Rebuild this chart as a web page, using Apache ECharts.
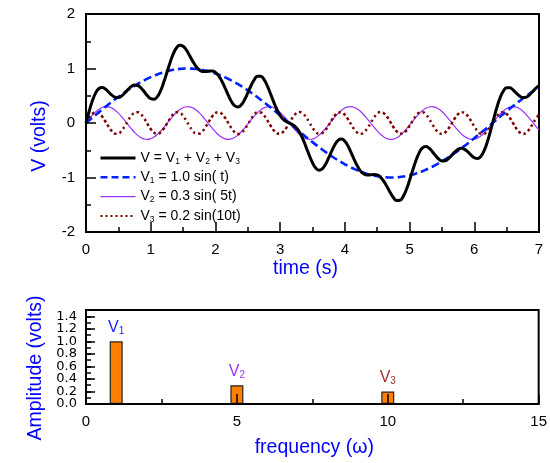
<!DOCTYPE html>
<html><head><meta charset="utf-8">
<script src="https://cdn.jsdelivr.net/npm/echarts@6/dist/echarts.min.js"></script>
<style>html,body{margin:0;padding:0;background:#fff}#c{width:550px;height:463px}</style>
</head><body><div id="c"></div>
<script>
// ---- data ----
const timeValues = [0,0.05,0.1,0.15,0.2,0.25,0.3,0.35,0.4,0.45,0.5,0.55,0.6,0.65,0.7,0.75,0.8,0.85,0.9,0.95,
1.0,1.05,1.1,1.15,1.2,1.25,1.3,1.35,1.4,1.45,1.5,1.55,1.6,1.65,1.7,1.75,1.8,1.85,1.9,1.95,
2.0,2.05,2.1,2.15,2.2,2.25,2.3,2.35,2.4,2.45,2.5,2.55,2.6,2.65,2.7,2.75,2.8,2.85,2.9,2.95,
3.0,3.05,3.1,3.15,3.2,3.25,3.3,3.35,3.4,3.45,3.5,3.55,3.6,3.65,3.7,3.75,3.8,3.85,3.9,3.95,
4.0,4.05,4.1,4.15,4.2,4.25,4.3,4.35,4.4,4.45,4.5,4.55,4.6,4.65,4.7,4.75,4.8,4.85,4.9,4.95,
5.0,5.05,5.1,5.15,5.2,5.25,5.3,5.35,5.4,5.45,5.5,5.55,5.6,5.65,5.7,5.75,5.8,5.85,5.9,5.95,
6.0,6.05,6.1,6.15,6.2,6.25,6.3,6.35,6.4,6.45,6.5,6.55,6.6,6.65,6.7,6.75,6.8,6.85,6.9,6.95,
7.0];
const v1Values = [0,.050,.100,.149,.199,.247,.296,.343,.389,.435,.479,.523,.565,.605,.644,.682,.717,.751,.783,.813,
.841,.867,.891,.913,.932,.949,.964,.976,.985,.993,.997,1.000,1.000,.997,.992,.984,.974,.961,.946,.929,
.909,.887,.863,.837,.808,.778,.746,.712,.676,.638,.599,.558,.516,.472,.427,.382,.335,.288,.239,.190,
.141,.092,.042,-.008,-.058,-.108,-.158,-.207,-.256,-.304,-.351,-.397,-.443,-.487,-.530,-.572,-.612,-.651,-.688,-.723,
-.757,-.789,-.818,-.846,-.872,-.895,-.916,-.935,-.952,-.966,-.978,-.987,-.994,-.998,-1.000,-.999,-.996,-.991,-.983,-.972,
-.959,-.944,-.926,-.906,-.884,-.859,-.832,-.803,-.773,-.740,-.706,-.669,-.631,-.592,-.551,-.508,-.465,-.420,-.374,-.327,
-.279,-.231,-.182,-.133,-.083,-.033,.017,.067,.117,.166,.215,.264,.312,.359,.405,.450,.494,.537,.578,.619,
.657];
const v2Values = [0,.074,.144,.205,.252,.285,.299,.295,.273,.233,.180,.115,.042,-.032,-.105,-.171,-.227,-.268,-.293,-.300,
-.288,-.258,-.212,-.152,-.084,-.010,.065,.135,.197,.247,.281,.298,.297,.277,.240,.187,.124,.052,-.023,-.096,
-.163,-.220,-.264,-.291,-.300,-.290,-.263,-.219,-.161,-.093,-.020,.055,.126,.189,.241,.278,.297,.298,.280,.245,
.195,.133,.062,-.013,-.086,-.155,-.214,-.259,-.288,-.300,-.293,-.267,-.225,-.169,-.103,-.030,.045,.117,.182,.235,
.274,.296,.299,.284,.251,.203,.142,.072,-.003,-.077,-.146,-.206,-.254,-.286,-.299,-.295,-.272,-.232,-.177,-.112,
-.040,.035,.108,.174,.229,.270,.294,.300,.287,.256,.210,.150,.081,.007,-.067,-.137,-.199,-.248,-.282,-.299,
-.296,-.276,-.238,-.185,-.121,-.050,.025,.098,.165,.222,.265,.292,.300,.290,.261,.217,.159,.091,.017,-.057,
-.128];
const v3Values = [0,.096,.168,.200,.182,.120,.028,-.070,-.151,-.196,-.192,-.141,-.056,.043,.131,.188,.198,.160,.082,-.015,
-.109,-.176,-.200,-.175,-.107,-.013,.084,.161,.198,.187,.130,.041,-.058,-.142,-.192,-.195,-.150,-.069,.030,.121,
.183,.199,.167,.094,-.002,-.097,-.169,-.200,-.181,-.118,-.026,.072,.153,.196,.191,.140,.054,-.045,-.133,-.188,
-.198,-.159,-.081,.017,.110,.177,.200,.174,.106,.012,-.086,-.162,-.198,-.186,-.129,-.040,.059,.144,.193,.195,
.149,.067,-.032,-.123,-.183,-.199,-.166,-.093,.004,.099,.170,.200,.180,.117,.025,-.073,-.154,-.196,-.191,-.139,
-.052,.046,.134,.189,.197,.158,.079,-.019,-.112,-.178,-.200,-.173,-.104,-.010,.087,.163,.199,.186,.127,.038,
-.061,-.145,-.193,-.194,-.148,-.065,.033,.124,.184,.199,.165,.091,-.005,-.101,-.171,-.200,-.180,-.115,-.023,.075,
.155];
const vValues = [0,.220,.412,.553,.633,.652,.623,.568,.511,.473,.467,.496,.551,.616,.670,.698,.688,.643,.572,.499,
.445,.434,.480,.585,.741,.926,1.112,1.272,1.381,1.427,1.409,1.340,1.239,1.131,1.039,.976,.947,.945,.954,.954,
.929,.866,.767,.640,.507,.390,.314,.293,.333,.426,.552,.684,.794,.857,.860,.799,.686,.541,.387,.248,
.139,.065,.023,-.004,-.035,-.086,-.171,-.292,-.438,-.592,-.729,-.826,-.866,-.842,-.761,-.641,-.508,-.390,-.313,-.294,
-.334,-.426,-.551,-.685,-.804,-.892,-.941,-.956,-.951,-.944,-.953,-.994,-1.067,-1.167,-1.275,-1.368,-1.422,-1.419,-1.351,-1.223,
-1.051,-.862,-.684,-.543,-.457,-.432,-.459,-.522,-.598,-.661,-.696,-.693,-.654,-.594,-.531,-.483,-.465,-.483,-.529,-.588,
-.637,-.652,-.613,-.512,-.352,-.148,.076,.289,.466,.587,.646,.646,.606,.548,.495,.467,.473,.512,.573,.636,
.683];
const seriesNames = ['V','V1','V2','V3'];
const legendTexts = ['V = V{s|1} + V{s|2} + V{s|3}','V{s|1} = 1.0 sin( t)','V{s|2} = 0.3 sin( 5t)','V{s|3} = 0.2 sin(10t)'];
const freqValues = [1,5,10];
const ampValues = [1.0,0.3,0.2];
const barLabelSubs = ['1','2','3'];
const ampTickLabels = ['0.0','0.2','0.4','0.6','0.8','1.0','1.2','1.4'];

// ---- styles ----
const FONT = '"Liberation Sans", Arial, Helvetica, sans-serif';
const BLUE = '#0000ff';
const barLabelColors = ['#1a1aff','#9933ff','#a03030'];

const chart = echarts.init(document.getElementById('c'));
const pairs = ys => timeValues.map((t,i)=>[t, ys[i]]);
const legendMap = {};
seriesNames.forEach((n,i)=>legendMap[n]=legendTexts[i]);

const axisCommon = {
  axisLine:{show:true,onZero:false,lineStyle:{color:'#000',width:2}},
  axisTick:{show:true,inside:true,length:10,lineStyle:{color:'#000',width:1.5}},
  minorTick:{show:true,splitNumber:2,length:5,lineStyle:{color:'#000',width:1.5}},
  splitLine:{show:false}, minorSplitLine:{show:false}
};
const ampLabel = v => {
  const s = v.toFixed(1);
  return ampTickLabels.indexOf(s) >= 0 && Math.abs(v*10 - Math.round(v*10)) < 1e-6 && Math.round(v*10) % 2 === 0 ? s : '';
};

chart.setOption({
  animation:false,
  backgroundColor:'#fff',
  grid:[
    {left:86,right:11,top:14,height:218,show:true,borderColor:'#000',borderWidth:2,backgroundColor:'transparent'},
    {left:86,right:11,top:310,height:94,show:true,borderColor:'#000',borderWidth:2,backgroundColor:'transparent'}
  ],
  xAxis:[
    Object.assign({gridIndex:0,type:'value',min:0,max:7,interval:1,z:10,
      axisLabel:{fontSize:15,color:'#000',fontFamily:FONT,margin:10},
      name:'time (s)',nameLocation:'middle',nameGap:27,
      nameTextStyle:{color:BLUE,fontSize:19.5,fontFamily:FONT,padding:[0,14,0,0]}},axisCommon),
    Object.assign({gridIndex:1,type:'value',min:0,max:15,interval:5,z:10,
      axisLabel:{fontSize:15,color:'#000',fontFamily:FONT,margin:10},
      name:'frequency (\u03c9)',nameLocation:'middle',nameGap:34,
      nameTextStyle:{color:BLUE,fontSize:19.5,fontFamily:FONT,padding:[0,0,0,4]}},axisCommon)
  ],
  yAxis:[
    Object.assign({gridIndex:0,type:'value',min:-2,max:2,interval:1,z:10,
      axisLabel:{fontSize:15,color:'#000',fontFamily:FONT,margin:11},
      name:'V (volts)',nameLocation:'middle',nameGap:36,
      nameTextStyle:{color:BLUE,fontSize:19.5,fontFamily:FONT,padding:[0,26,0,0]}},axisCommon),
    {gridIndex:1,type:'value',min:0,max:1.5,interval:0.1,z:10,position:'left',
      axisLine:{show:true,onZero:false,lineStyle:{color:'#000',width:2}},
      axisTick:{show:true,inside:true,length:5,lineStyle:{color:'#000',width:1.5}},
      minorTick:{show:false},splitLine:{show:false},
      axisLabel:{fontSize:13,color:'#000',fontFamily:'"DejaVu Sans", sans-serif',margin:9,lineHeight:8,
        showMinLabel:true,showMaxLabel:false,hideOverlap:false,formatter:ampLabel},
      name:'Amplitude (volts)',nameLocation:'middle',nameGap:39,
      nameTextStyle:{color:BLUE,fontSize:19.5,fontFamily:FONT,padding:[0,22,0,0]}},
    {gridIndex:1,type:'value',min:0,max:1.5,interval:0.2,z:11,position:'left',
      axisLine:{show:false},
      axisTick:{show:true,inside:true,length:9,lineStyle:{color:'#000',width:1.5}},
      minorTick:{show:false},splitLine:{show:false},axisLabel:{show:false}}
  ],
  legend:{
    orient:'vertical',left:94,top:145,itemWidth:35,itemHeight:14,itemGap:3.3,
    selectedMode:false,
    data:[
      {name:'V',lineStyle:{width:3,type:'solid'}},
      {name:'V1',lineStyle:{width:2.5,type:[7,4]}},
      {name:'V2',lineStyle:{width:1.2,type:'solid'}},
      {name:'V3',lineStyle:{width:2,type:[2,3]}}
    ],
    itemStyle:{opacity:0},
    formatter:n=>legendMap[n],
    textStyle:{fontSize:14,color:'#000',fontFamily:FONT,lineHeight:16,
      rich:{s:{fontSize:8.5,fontFamily:FONT,lineHeight:6,verticalAlign:'bottom'}}}
  },
  series:[
    {name:'V2',type:'line',xAxisIndex:0,yAxisIndex:0,data:pairs(v2Values),smooth:true,symbol:'none',z:2,
     lineStyle:{color:'#9933ff',width:1.2},itemStyle:{color:'#9933ff'}},
    {name:'V3',type:'line',xAxisIndex:0,yAxisIndex:0,data:pairs(v3Values),smooth:true,symbol:'none',z:3,
     lineStyle:{color:'#800000',width:2.5,type:[2.5,3]},itemStyle:{color:'#800000'}},
    {name:'V1',type:'line',xAxisIndex:0,yAxisIndex:0,data:pairs(v1Values),smooth:true,symbol:'none',z:4,
     lineStyle:{color:'#0022ff',width:2.6,type:[8,4]},itemStyle:{color:'#0022ff'}},
    {name:'V',type:'line',xAxisIndex:0,yAxisIndex:0,data:pairs(vValues),smooth:true,symbol:'none',z:5,
     lineStyle:{color:'#000',width:3},itemStyle:{color:'#000'}},
    {name:'Amplitude',type:'bar',xAxisIndex:1,yAxisIndex:1,barWidth:13,
     data:freqValues.map((f,i)=>({value:[f,ampValues[i]],
       label:{color:barLabelColors[i],formatter:'{v|V}{s|'+barLabelSubs[i]+'}'}})),
     itemStyle:{color:'#ff8000',borderColor:'#222',borderWidth:1.2},
     label:{show:true,position:'top',distance:5,fontSize:15,fontFamily:FONT,lineHeight:18,
       rich:{v:{fontSize:16,fontFamily:FONT,lineHeight:18},
             s:{fontSize:10,fontFamily:FONT,lineHeight:7,verticalAlign:'bottom'}}}}
  ]
});
</script></body></html>
